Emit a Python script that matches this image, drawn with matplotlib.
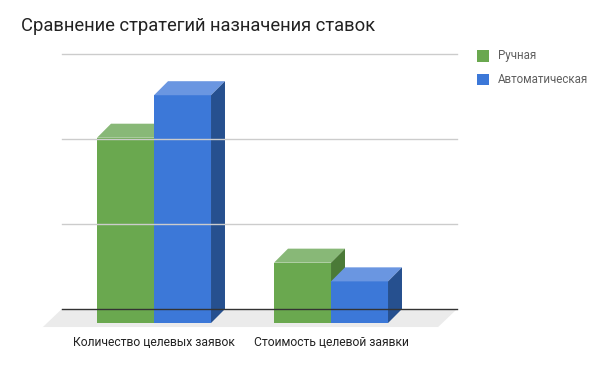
import matplotlib.pyplot as plt
from matplotlib.patches import Polygon

plt.rcParams['font.family'] = ['Roboto', 'DejaVu Sans']

# data (values read in gridline units)
categories = ['Количество целевых заявок', 'Стоимость целевой заявки']
series_names = ['Ручная', 'Автоматическая']
manual = [2.18, 0.71]
auto = [2.68, 0.49]
grid_values = [1, 2, 3]

# colours: front, top, side
green = ('#6aa84f', '#88b877', '#4b7a37')
blue = ('#3c78d8', '#6a96e1', '#26508f')

width = 0.322        # bar width, category units
dx, dy = 0.079, 0.165  # bar depth offset
fdx, fdy = 0.107, 0.212  # floor depth
x_left, x_right = -0.60, 1.633


def bar3d(ax, x0, h, cols):
    front, top, side = cols
    # front face (shifted forward)
    fx0, fx1 = x0 - dx, x0 + width - dx
    fy0, fy1 = -dy, h - dy
    ax.add_patch(Polygon([(fx0, fy0), (fx1, fy0), (fx1, fy1), (fx0, fy1)],
                         closed=True, color=front, lw=0))
    ax.add_patch(Polygon([(fx0, fy1), (fx1, fy1), (fx1 + dx, fy1 + dy), (fx0 + dx, fy1 + dy)],
                         closed=True, color=top, lw=0))
    ax.add_patch(Polygon([(fx1, fy0), (fx1 + dx, fy0 + dy), (fx1 + dx, fy1 + dy), (fx1, fy1)],
                         closed=True, color=side, lw=0))


fig = plt.figure(figsize=(6.07, 3.69), dpi=100)
ax = fig.add_axes([0, 0, 1, 1])
ax.set_xlim(-168 / 177, 439 / 177)
ax.set_ylim(-60 / 85, 309 / 85)
ax.axis('off')

# floor
ax.add_patch(Polygon([(x_left, 0), (x_right, 0), (x_right - fdx, -fdy), (x_left - fdx, -fdy)],
                     closed=True, color='#ebebeb', lw=0))
for g in grid_values:
    ax.plot([x_left, x_right], [g, g], color='#cccccc', lw=1)
ax.plot([x_left, x_right], [0, 0], color='#333333', lw=1)

for i, cat in enumerate(categories):
    bar3d(ax, i - width, manual[i], green)
    bar3d(ax, i, auto[i], blue)
    ax.text(i - dx, -0.39, cat, ha='center', va='center', fontsize=8.7, color='#222222')

fig.text(21 / 607, 1 - 26 / 369, 'Сравнение стратегий назначения ставок',
         fontsize=13.2, color='#222222', ha='left', va='center')

# legend
for k, (name, cols) in enumerate(zip(series_names, [green, blue])):
    yc = 56 + k * 23.5
    fig.patches.append(plt.Rectangle((477 / 607, 1 - (yc + 5.5) / 369), 12 / 607, 11 / 369,
                                     transform=fig.transFigure, color=cols[0], lw=0))
    fig.text(498 / 607, 1 - yc / 369, name, fontsize=8.3, color='#5f5f5f',
             ha='left', va='center')

fig.savefig('out.png', dpi=100)
